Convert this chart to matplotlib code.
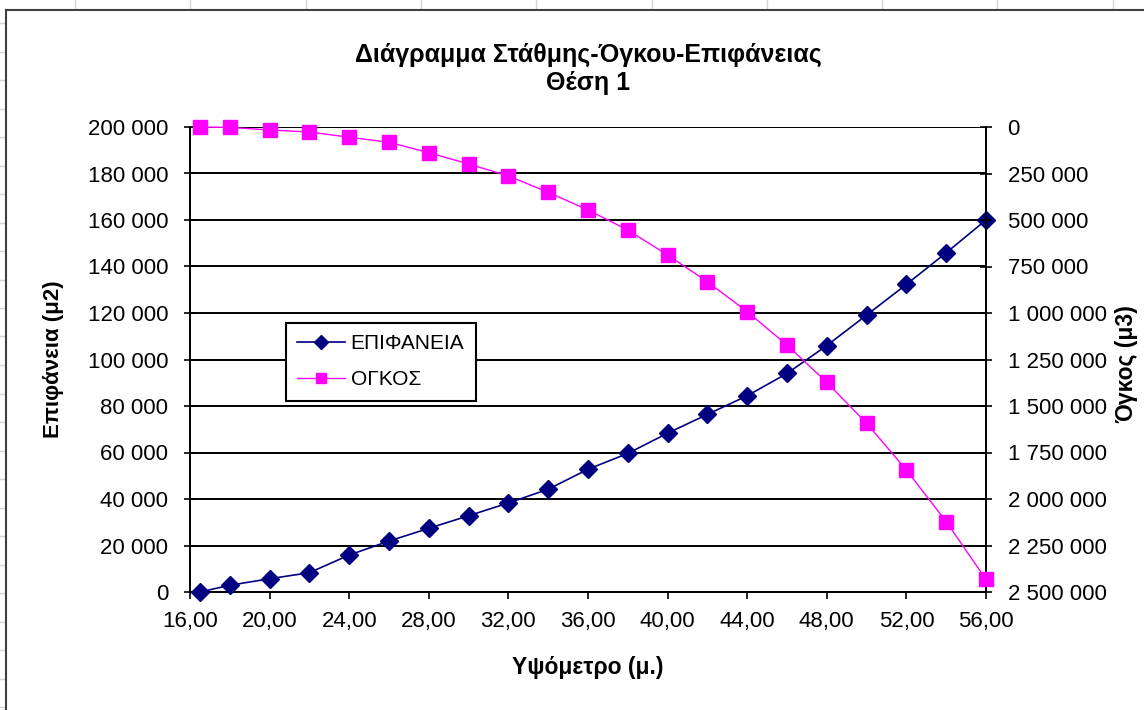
"""Stage-volume-area chart (Θέση 1), Excel-style, two y axes."""
import matplotlib
matplotlib.use("Agg")
import matplotlib.pyplot as plt
from matplotlib.lines import Line2D
from matplotlib.ticker import FuncFormatter, MultipleLocator
import numpy as np

plt.rcParams["font.family"] = ["Liberation Sans", "DejaVu Sans"]

# elevation (m)
elevation = [16.5, 18, 20, 22, 24, 26, 28, 30, 32, 34, 36, 38, 40, 42, 44, 46, 48, 50, 52, 54, 56]
# surface area (m2)
area = [0, 2900, 5700, 8300, 15900, 21900, 27400, 32800, 38300, 44200, 52800,
        59600, 68300, 76400, 84400, 94000, 106000, 119100, 132300, 145900, 160000]
# volume (m3)
volume = [0, 2000, 16000, 27000, 55000, 82000, 138000, 199000, 263000, 351000, 446000,
          554000, 688000, 832000, 993000, 1172000, 1373000, 1593000, 1844000, 2122000, 2432000]

title = "Διάγραμμα Στάθμης-Όγκου-Επιφάνειας\nΘέση 1"
xlabel = "Υψόμετρο (μ.)"
ylabel_left = "Επιφάνεια (μ2)"
ylabel_right = "Όγκος (μ3)"
label_area = "ΕΠΙΦΑΝΕΙΑ"
label_volume = "ΟΓΚΟΣ"

W, H = 1144, 710
fig = plt.figure(figsize=(W / 100, H / 100), dpi=100)

# spreadsheet cells behind the chart object
grid_c = "#d4d4d4"
for x in np.arange(75, W, 115.3):
    fig.add_artist(Line2D([x / W, x / W], [1, 1 - 9 / H], color=grid_c, lw=1))
for y in np.arange(23, H, 28.5):
    fig.add_artist(Line2D([0, 4 / W], [1 - y / H, 1 - y / H], color=grid_c, lw=1))
# chart area border (extends past the screenshot)
fig.add_artist(Line2D([5.5 / W, 5.5 / W], [0, 1 - 10 / H], color="#404040", lw=1.5))
fig.add_artist(Line2D([5.5 / W, 1], [1 - 10 / H, 1 - 10 / H], color="#404040", lw=1.5))

left, right, top, bottom = 190, 986, 127, 592
ax = fig.add_axes([left / W, 1 - bottom / H, (right - left) / W, (bottom - top) / H])
ax2 = ax.twinx()

navy = "#000080"
magenta = "#FF00FF"

l1, = ax.plot(elevation, area, color=navy, lw=1.2, marker="D", ms=9.5,
              markerfacecolor=navy, markeredgecolor=navy, clip_on=False, zorder=3)
l2, = ax2.plot(elevation, volume, color=magenta, lw=1.0, marker="s", ms=10.5,
               markerfacecolor=magenta, markeredgecolor=magenta, clip_on=False, zorder=3)

ax.set_xlim(16, 56)
ax.set_ylim(0, 200000)
ax2.set_ylim(2500000, 0)

ax.xaxis.set_major_locator(MultipleLocator(4))
ax.yaxis.set_major_locator(MultipleLocator(20000))
ax2.yaxis.set_major_locator(MultipleLocator(250000))

thousands = FuncFormatter(lambda v, p: f"{v:,.0f}".replace(",", " "))
ax.yaxis.set_major_formatter(thousands)
ax2.yaxis.set_major_formatter(thousands)
ax.xaxis.set_major_formatter(FuncFormatter(lambda v, p: f"{v:.2f}".replace(".", ",")))

ax.grid(axis="y", color="black", lw=1.4)
ax.set_axisbelow(True)

for a in (ax, ax2):
    for s in a.spines.values():
        s.set_linewidth(1.4)
    a.spines["top"].set_visible(False)
ax.spines["right"].set_visible(False)
ax2.spines["left"].set_visible(False)
ax2.spines["bottom"].set_visible(False)

ax.tick_params(axis="y", direction="inout", length=9, width=1.2, labelsize=16, pad=11)
ax.tick_params(axis="x", direction="out", length=5, width=1.2, labelsize=16, pad=9)
ax2.tick_params(axis="y", direction="inout", length=9, width=1.2, labelsize=16, pad=11)

ax.set_xlabel(xlabel, fontsize=16.5, fontweight="bold", labelpad=17)
ax.set_ylabel(ylabel_left, fontsize=16, fontweight="bold")
ax.yaxis.set_label_coords((64 - left) / (right - left), 0.5)
ax2.set_ylabel(ylabel_right, fontsize=16.5, fontweight="bold", rotation=90)
ax2.yaxis.set_label_coords((1115 - left) / (right - left), 0.49)

fig.text((left + right) / 2 / W, 1 - 69 / H, title, ha="center", va="center",
         fontsize=18, fontweight="bold", linespacing=1.2)

leg = ax2.legend([l1, l2], [label_area, label_volume], loc="upper left",
                 bbox_to_anchor=((286 - left) / (right - left), (bottom - 323) / (bottom - top)),
                 borderaxespad=0, fancybox=False, framealpha=1, edgecolor="black",
                 fontsize=15, handlelength=2.3, handletextpad=0.25, labelspacing=0.8,
                 numpoints=1, borderpad=0.55, markerscale=0.7)
leg.get_frame().set_linewidth(1.5)

fig.savefig("out.png", dpi=100)
